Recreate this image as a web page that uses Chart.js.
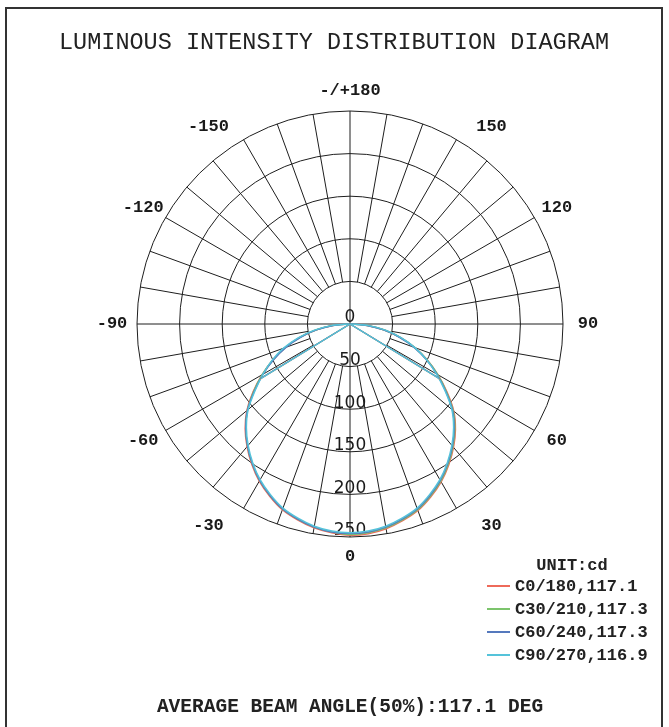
<!DOCTYPE html>
<html>
<head>
<meta charset="utf-8">
<script src="https://cdn.jsdelivr.net/npm/chart.js@4.4.1/dist/chart.umd.min.js"></script>
<style>
  html, body { margin: 0; padding: 0; background: #fff; }
  #wrap { position: relative; width: 669px; height: 727px; overflow: hidden; }
  #frame { position: absolute; left: 5px; top: 7px; width: 654px; height: 760px; border: 2px solid #333; }
  canvas { position: absolute; left: 0; top: 0; }
  .txt { position: absolute; font-family: "Liberation Mono", "DejaVu Sans Mono", monospace; color: #222; white-space: nowrap; line-height: 1; }
  .mid { transform: translate(-50%, -50%); }
  .bold { font-weight: bold; }
  .swatch { position: absolute; width: 23px; height: 2px; }
</style>
</head>
<body>
<div id="wrap">
  <div id="frame"></div>
  <canvas id="lidc" width="669" height="727"></canvas>
  <div class="txt mid" style="left:334px; top:43px; font-size:23.5px;">LUMINOUS INTENSITY DISTRIBUTION DIAGRAM</div>
  <div class="txt mid bold" style="left:572px; top:565px; font-size:17px;">UNIT:cd</div>
  <div id="legend"></div>
  <div class="txt mid bold" style="left:350px; top:708px; font-size:19.5px;">AVERAGE BEAM ANGLE(50%):117.1 DEG</div>
</div>
<script>
// gamma angles (deg) of the measured points, C-plane pair left (-) / right (+)
const gammas = [-90, -85, -80, -75, -70, -65, -60, -55, -50, -45, -40, -35, -30, -25, -20, -15, -10, -5,
  0, 5, 10, 15, 20, 25, 30, 35, 40, 45, 50, 55, 60, 65, 70, 75, 80, 85, 90]

// intensity in cd
const c0Values = [1, 20, 40, 61, 81, 100, 119, 139, 158, 174, 188, 201, 213, 223, 232, 238, 243, 246,
  248, 247, 244, 239, 233, 224, 214, 202, 189, 175, 159, 139, 119, 100, 81, 61, 41, 20, 1]
const c30Values = [1, 21, 41, 61, 81, 100, 119, 138, 157, 173, 187, 200, 212, 222, 231, 237, 242, 245,
  247, 246, 243, 238, 232, 223, 213, 201, 188, 174, 158, 138, 119, 100, 81, 61, 41, 21, 1]
const c60Values = [1, 20, 40, 60, 80, 99, 118, 137, 157, 173, 187, 200, 212, 222, 231, 237, 242, 245,
  246, 245, 242, 237, 231, 222, 212, 200, 187, 173, 157, 137, 118, 99, 80, 60, 40, 20, 1]
const c90Values = [1, 22, 43, 63, 83, 101, 118, 136, 156, 172, 186, 199, 211, 221, 230, 236, 241, 244,
  245, 244, 241, 236, 230, 221, 211, 199, 186, 172, 156, 136, 117, 99, 81, 62, 43, 22, 1]

const seriesNames = ['C0/180', 'C30/210', 'C60/240', 'C90/270']
const beamAngles = [117.1, 117.3, 117.3, 116.9]
const seriesValues = [c0Values, c30Values, c60Values, c90Values]
const seriesColors = ['#ee6a5a', '#7cc46c', '#5579bd', '#55c3da']

const tickValues = [0, 50, 100, 150, 200, 250]
const angleLabels = [180, 150, 120, 90, 60, 30, 0, -30, -60, -90, -120, -150]

// radar spokes every 5 deg, clockwise from the top (180) round to -175
const spokeStep = 5
const spokes = []
for (let i = 0; i < 360 / spokeStep; i++) spokes.push(180 - i * spokeStep)
const gammaToIndex = g => (180 - g) / spokeStep

const datasets = seriesValues.map((vals, s) => ({
  label: seriesNames[s],
  data: spokes.map(g => {
    const k = gammas.indexOf(g)
    return k >= 0 ? vals[k] : null
  }),
  borderColor: seriesColors[s],
  borderWidth: 1.5,
  pointRadius: 0,
  fill: false,
  tension: 0.2,
  order: seriesValues.length - s
}))

// legend
const legend = document.getElementById('legend')
seriesNames.forEach((name, s) => {
  const y = 586 + s * 23
  const sw = document.createElement('div')
  sw.className = 'swatch'
  sw.style.left = '487px'
  sw.style.top = (y - 1) + 'px'
  sw.style.background = seriesColors[s]
  legend.appendChild(sw)
  const t = document.createElement('div')
  t.className = 'txt bold'
  t.style.left = '515px'
  t.style.top = y + 'px'
  t.style.fontSize = '17px'
  t.style.transform = 'translateY(-50%)'
  t.textContent = name + ',' + beamAngles[s].toFixed(1)
  legend.appendChild(t)
})

const axisText = {
  id: 'axisText',
  beforeDatasetsDraw(chart) {
    const r = chart.scales.r
    const ctx = chart.ctx
    ctx.save()
    ctx.fillStyle = '#1a1a1a'
    ctx.textAlign = 'center'
    ctx.textBaseline = 'middle'
    // intensity ticks down the 0 deg spoke
    ctx.font = '17px "DejaVu Sans"'
    tickValues.forEach(v => {
      const p = r.getPointPosition(gammaToIndex(0), r.getDistanceFromCenterForValue(v))
      ctx.fillText(String(v), p.x, p.y - 6)
    })
    // gamma labels round the outside
    ctx.font = 'bold 17px "Liberation Mono"'
    angleLabels.forEach(g => {
      const p = r.getPointPosition(gammaToIndex(g), r.drawingArea + 20)
      const side = Math.sign(Math.round(p.x - r.xCenter))
      const diag = Math.abs(Math.abs(g) - 90) === 60
      const x = p.x + side * (5 + (diag ? 20 : 0))
      const y = p.y + (diag && p.y < r.yCenter ? 5 : 0)
      ctx.fillText(g === 180 ? '-/+180' : String(g), x, y)
    })
    ctx.restore()
  },
  afterDatasetsDraw(chart) {
    // beam angle lines: centre to the 50% point on each side
    const r = chart.scales.r
    const ctx = chart.ctx
    ctx.save()
    ctx.lineWidth = 1.2
    seriesValues.forEach((vals, s) => {
      const half = beamAngles[s] / 2
      const d = r.getDistanceFromCenterForValue(Math.max(...vals) / 2)
      ctx.strokeStyle = seriesColors[s]
      ;[half, -half].forEach(g => {
        const p = r.getPointPosition(gammaToIndex(g), d)
        ctx.beginPath()
        ctx.moveTo(r.xCenter, r.yCenter)
        ctx.lineTo(p.x, p.y)
        ctx.stroke()
      })
    })
    ctx.restore()
  }
}

const chart = new Chart(document.getElementById('lidc').getContext('2d'), {
  type: 'radar',
  data: { labels: spokes, datasets: datasets },
  options: {
    responsive: false,
    animation: false,
    layout: { padding: { left: 137, right: 106, top: 111, bottom: 190 } },
    plugins: { legend: { display: false }, tooltip: { enabled: false } },
    scales: {
      r: {
        min: 0,
        max: 250,
        startAngle: 0,
        ticks: { display: false, stepSize: 50 },
        pointLabels: { display: false },
        grid: { circular: true, color: '#1e1e1e', lineWidth: 1 },
        angleLines: {
          color: '#1e1e1e',
          lineWidth: c => ((180 - c.index * spokeStep) % 10 === 0 ? 1 : 0),
          borderDash: c => {
            const g = 180 - c.index * spokeStep
            if (g % 90 === 0) return []
            const inner = c.chart.scales.r.getDistanceFromCenterForValue(50)
            return [0, inner, 2000]
          }
        }
      }
    }
  },
  plugins: [axisText]
})
</script>
</body>
</html>
